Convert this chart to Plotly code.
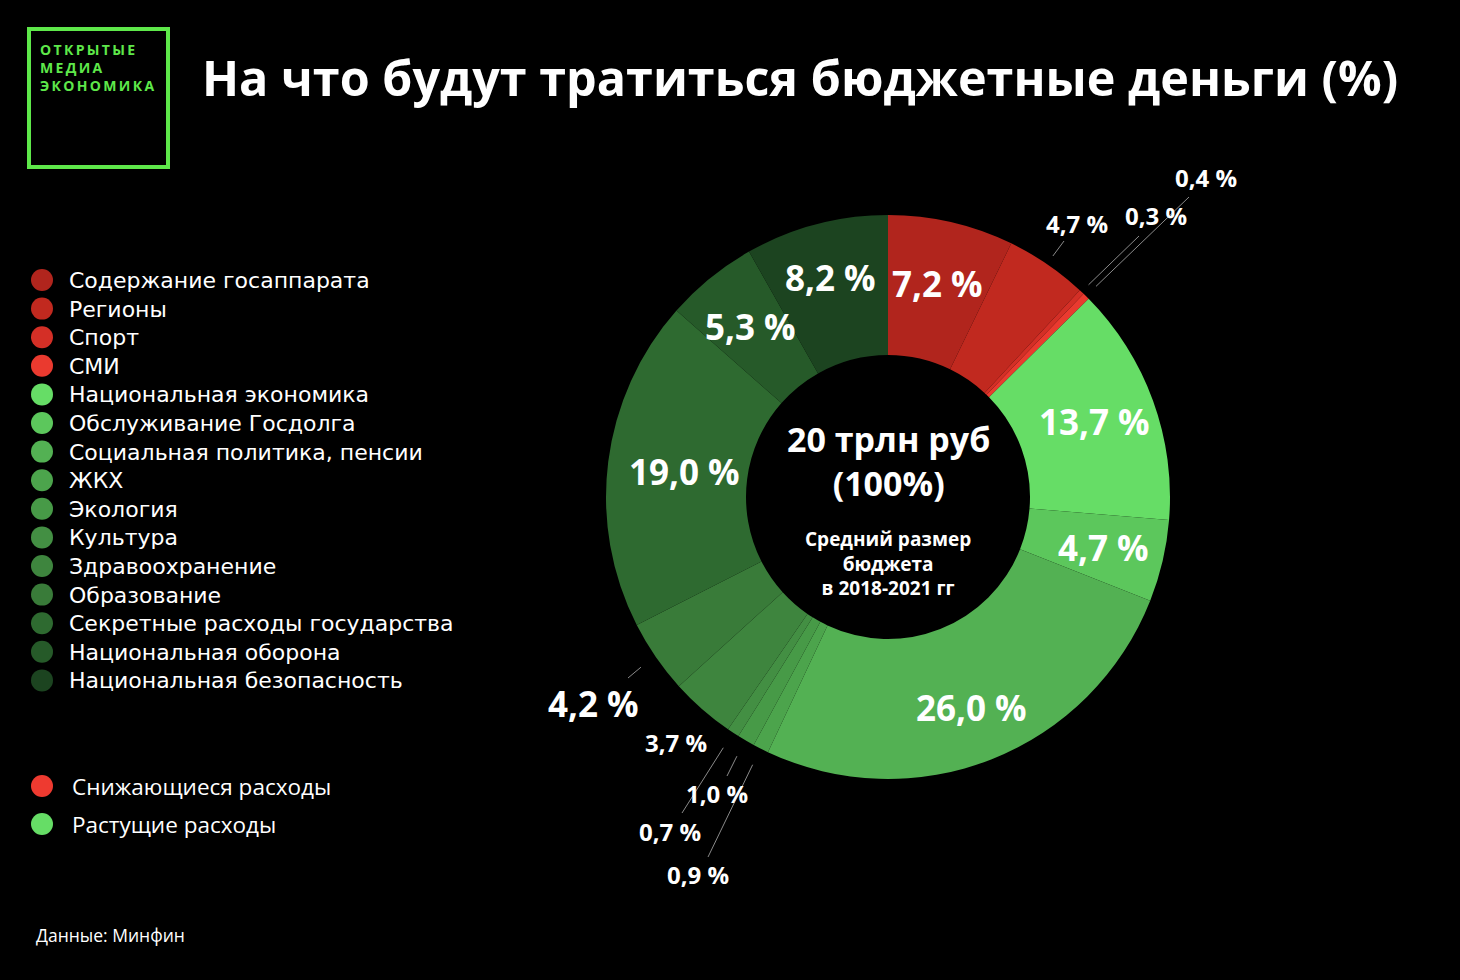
import math
import plotly.graph_objects as go

# ---------------- data ----------------
categories = [
    "Содержание госаппарата", "Регионы", "Спорт", "СМИ",
    "Национальная экономика", "Обслуживание Госдолга",
    "Социальная политика, пенсии", "ЖКХ", "Экология", "Культура",
    "Здравоохранение", "Образование", "Секретные расходы государства",
    "Национальная оборона", "Национальная безопасность",
]
shares = [7.2, 4.7, 0.3, 0.4, 13.7, 4.7, 26.0, 0.9, 1.0, 0.7, 3.7, 4.2, 19.0, 5.3, 8.2]
colors = [
    "#b1251d", "#c1291f", "#d42f26", "#ea3a2f",
    "#66dd66", "#5cc75c", "#53b153", "#4ca44c", "#479a47", "#438f43",
    "#3e853e", "#397b39", "#2e6a30", "#265a29", "#1c4420",
]
trend_labels = ["Снижающиеся расходы", "Растущие расходы"]
trend_colors = ["#ee3a30", "#66dd66"]

W, H = 1460, 980
CX, CY, R_OUT, R_IN = 888, 497, 282, 142
FONT = "Open Sans"

def px(x):
    return x / W

def py(y):
    return 1 - y / H

fig = go.Figure()
fig.add_trace(go.Pie(
    labels=categories, values=shares, sort=False, direction="clockwise",
    rotation=0, hole=R_IN / R_OUT, textinfo="none", hoverinfo="label+value",
    marker=dict(colors=colors, line=dict(width=0)),
    domain=dict(x=[px(CX - R_OUT), px(CX + R_OUT)], y=[py(CY + R_OUT), py(CY - R_OUT)]),
    showlegend=False,
))

def fmt(v):
    return "<b>" + f"{v:.1f}".replace(".", ",") + " %</b>"

# mid angles of slices (clockwise from 12 o'clock)
mids = []
acc = 0
for v in shares:
    mids.append((acc + v / 2) / 100 * 360)
    acc += v

def polar(theta, r):
    t = math.radians(theta)
    return CX + r * math.sin(t), CY - r * math.cos(t)

annotations = []
shapes = []

def text(x, y, s, size, color="white", anchor="left", family=FONT, **kw):
    annotations.append(dict(x=px(x), y=py(y), xref="paper", yref="paper", text=s, showarrow=False,
                            font=dict(family=family, size=size, color=color),
                            xanchor=anchor, yanchor="middle", **kw))

# inside labels (large slices): index -> label radius
inside = {0: 219, 4: 220, 5: 221, 6: 226, 12: 205, 13: 219, 14: 227}
for i, r in inside.items():
    x, y = polar(mids[i], r)
    text(x, y, fmt(shares[i]), 35, anchor="center")

# outside labels: index -> (label pos, font size, line start radius, line end)
outside = {
    1: ((1077, 224), 24, 292, (1064, 241)),
    2: ((1156, 216), 24, 292, (1139, 236)),
    3: ((1206, 177), 24, 296, (1189, 197)),
    11: ((593, 703), 35, 300, (628, 678)),
    10: ((676, 742), 24, None, None),
    7: ((698, 874), 24, 300, (708, 857)),
    8: ((717, 793), 24, 300, (727, 776)),
    9: ((670, 831), 24, 300, (682, 813)),
}
for i, (pos, fs, r0, end) in outside.items():
    text(pos[0], pos[1], fmt(shares[i]), fs, anchor="center")
    if r0 is not None:
        sx, sy = polar(mids[i], r0)
        shapes.append(dict(type="line", xref="paper", yref="paper", x0=px(sx), y0=py(sy),
                           x1=px(end[0]), y1=py(end[1]), line=dict(color="#8a8a8a", width=1)))

# centre text
text(CX, 461, "<b>20 трлн руб<br>(100%)</b>", 34, anchor="center", align="center")
text(CX, 563, "<b>Средний размер<br>бюджета<br>в 2018-2021 гг</b>", 19, anchor="center", align="center")

# legend: dots + one multi-line text block (line pitch = 1.3 * font size)
LEG_FS = 22
LEG_TOP = 280
pitch = LEG_FS * 1.3
for k, col in enumerate(colors):
    yy = LEG_TOP + k * pitch
    shapes.append(dict(type="circle", xref="paper", yref="paper", x0=px(31), x1=px(53),
                       y0=py(yy - 11), y1=py(yy + 11), fillcolor=col, line=dict(width=0)))
block_mid = LEG_TOP + (len(categories) - 1) * pitch / 2
text(67, block_mid, "<br>".join(categories), LEG_FS, family="DejaVu Sans", align="left")

for k, (name, col) in enumerate(zip(trend_labels, trend_colors)):
    yy = 786 + k * 38
    shapes.append(dict(type="circle", xref="paper", yref="paper", x0=px(31), x1=px(53),
                       y0=py(yy - 11), y1=py(yy + 11), fillcolor=col, line=dict(width=0)))
    text(70, yy, name, 22.5)

# logo
shapes.append(dict(type="rect", xref="paper", yref="paper", x0=px(29), x1=px(168), y0=py(29), y1=py(167),
                   line=dict(color="#5ee84a", width=4), fillcolor="rgba(0,0,0,0)"))
text(38, 67, "<br>".join("<b>" + "\u2009".join(w) + "</b>" for w in ["ОТКРЫТЫЕ", "МЕДИА", "ЭКОНОМИКА"]),
     14, color="#5ee84a", align="left")

# title
text(200, 77, "<b>На что будут тратиться бюджетные деньги (%)</b>", 48.5)
# source
text(34, 935, "Данные: Минфин", 17.5)

fig.update_layout(width=W, height=H, margin=dict(l=0, r=0, t=0, b=0),
                  paper_bgcolor="black", plot_bgcolor="black",
                  annotations=annotations, shapes=shapes, showlegend=False)

fig.write_html("out.html", config={"displayModeBar": False},
               post_script="document.body.style.margin='0';document.body.style.background='black';")
